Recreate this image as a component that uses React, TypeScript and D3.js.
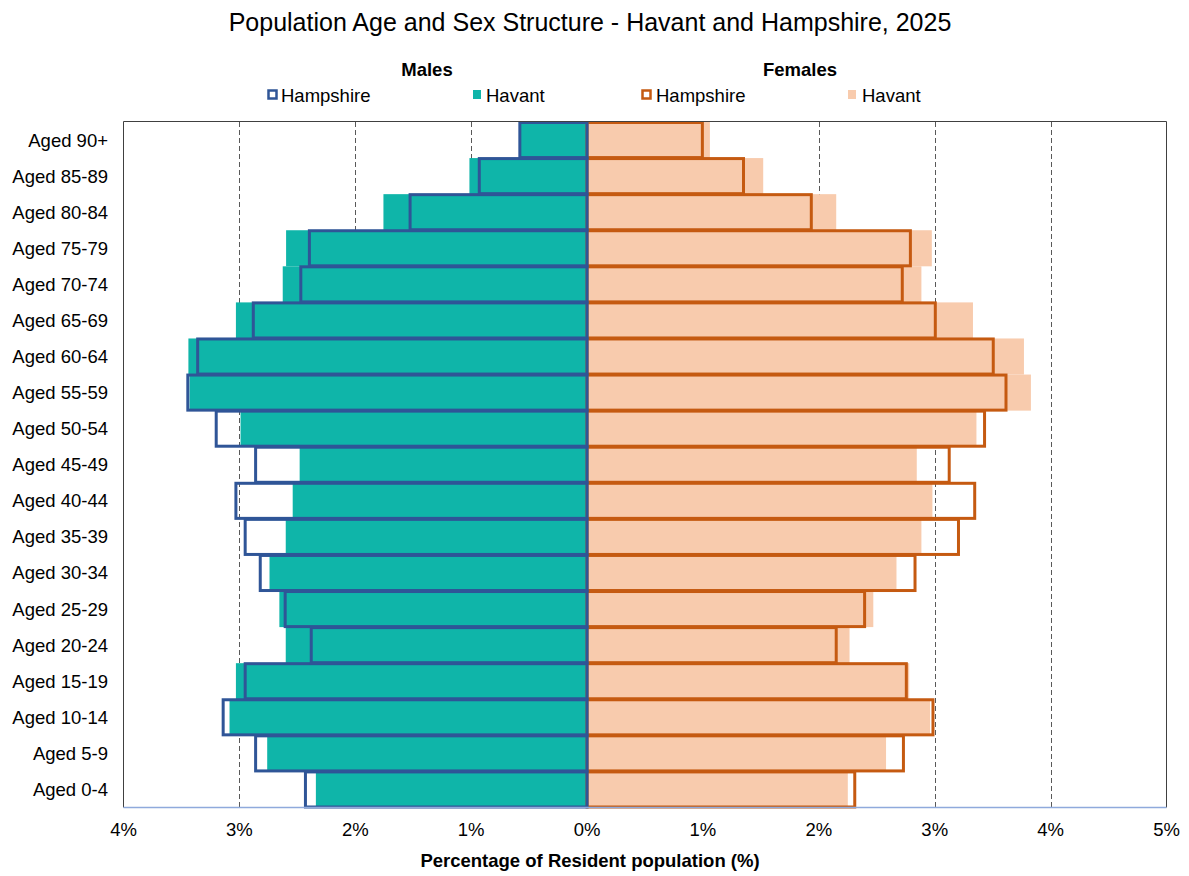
import React from "react";
import * as d3 from "d3";

const ageGroups = [
  "Aged 0-4", "Aged 5-9", "Aged 10-14", "Aged 15-19", "Aged 20-24", "Aged 25-29",
  "Aged 30-34", "Aged 35-39", "Aged 40-44", "Aged 45-49", "Aged 50-54", "Aged 55-59",
  "Aged 60-64", "Aged 65-69", "Aged 70-74", "Aged 75-79", "Aged 80-84", "Aged 85-89", "Aged 90+",
];
const maleHavant = [2.34, 2.76, 3.085, 3.03, 2.60, 2.655, 2.74, 2.60, 2.54, 2.48, 2.99, 3.43, 3.44, 3.03, 2.626, 2.597, 1.757, 1.015, 0.575];
const maleHampshire = [2.43, 2.86, 3.14, 2.95, 2.38, 2.605, 2.82, 2.95, 3.03, 2.86, 3.20, 3.445, 3.36, 2.88, 2.47, 2.396, 1.527, 0.93, 0.58];
const femaleHavant = [2.25, 2.58, 2.96, 2.78, 2.265, 2.47, 2.67, 2.885, 2.98, 2.845, 3.36, 3.83, 3.77, 3.33, 2.885, 2.975, 2.15, 1.52, 1.06];
const femaleHampshire = [2.31, 2.73, 2.985, 2.755, 2.15, 2.395, 2.83, 3.205, 3.345, 3.125, 3.43, 3.615, 3.505, 3.005, 2.72, 2.79, 1.935, 1.35, 0.995];
const xTicks = [-4, -3, -2, -1, 0, 1, 2, 3, 4, 5];
const gridTicks = [-3, -2, -1, 1, 2, 3, 4];

const FONT = "'Liberation Sans', Arial, sans-serif";
const TEAL = "#0fb5a9";
const PEACH = "#f8cbad";
const BLUE = "#2f5597";
const ORANGE = "#c55a11";
const FS = 18.5;

export default function App() {
  const W = 1189, H = 876;
  const left = 123.5, right = 1166.5, top = 122, bottom = 807.5;
  const x = d3.scaleLinear().domain([-4, 5]).range([left, right]);
  const y = d3.scaleBand<string>().domain([...ageGroups].reverse()).range([top, bottom]).padding(0);
  const bw = y.bandwidth();
  const x0 = x(0);

  return (
    <svg width={W} height={H} style={{ position: "absolute", left: 0, top: 0, fontFamily: FONT }}>
      <rect x={0} y={0} width={W} height={H} fill="#fff" />
      <text x={590} y={31} textAnchor="middle" fontSize={25} fill="#000">
        Population Age and Sex Structure - Havant and Hampshire, 2025
      </text>

      {/* legend */}
      <text x={427} y={76} textAnchor="middle" fontSize={FS} fontWeight="bold">Males</text>
      <text x={800} y={76} textAnchor="middle" fontSize={FS} fontWeight="bold">Females</text>
      <rect x={268.5} y={90.5} width={8} height={8} fill="#fff" stroke={BLUE} strokeWidth={2.5} />
      <text x={281} y={102} fontSize={FS}>Hampshire</text>
      <rect x={473} y={90} width={8} height={9} fill={TEAL} />
      <text x={486} y={102} fontSize={FS}>Havant</text>
      <rect x={642.5} y={90.5} width={8} height={8} fill="#fff" stroke={ORANGE} strokeWidth={2.5} />
      <text x={656} y={102} fontSize={FS}>Hampshire</text>
      <rect x={848} y={90} width={8} height={9} fill={PEACH} />
      <text x={862} y={102} fontSize={FS}>Havant</text>

      {/* gridlines */}
      {gridTicks.map((t) => (
        <line key={"g" + t} x1={Math.round(x(t)) + 0.5} x2={Math.round(x(t)) + 0.5} y1={top} y2={bottom}
          stroke="#595959" strokeWidth={1} strokeDasharray="5,3" />
      ))}

      {/* Havant bars */}
      {ageGroups.map((a, i) => (
        <rect key={"fh" + a} x={x0} y={y(a)!} width={x(femaleHavant[i]) - x0} height={bw} fill={PEACH} />
      ))}
      {ageGroups.map((a, i) => (
        <rect key={"mh" + a} x={x(-maleHavant[i])} y={y(a)!} width={x0 - x(-maleHavant[i])} height={bw} fill={TEAL} />
      ))}

      {/* Hampshire outlines */}
      {ageGroups.map((a, i) => (
        <rect key={"fH" + a} x={x0} y={y(a)! + 0.5} width={x(femaleHampshire[i]) - x0} height={bw - 1}
          fill="none" stroke={ORANGE} strokeWidth={3} />
      ))}
      {ageGroups.map((a, i) => (
        <rect key={"mH" + a} x={x(-maleHampshire[i])} y={y(a)! + 0.5} width={x0 - x(-maleHampshire[i])} height={bw - 1}
          fill="none" stroke={BLUE} strokeWidth={3} />
      ))}
      <line x1={x0} x2={x0} y1={top} y2={bottom} stroke={BLUE} strokeWidth={1.5} />

      {/* frame */}
      <line x1={left} x2={right} y1={top - 0.5} y2={top - 0.5} stroke="#404040" strokeWidth={1} />
      <line x1={left} x2={left} y1={top - 0.5} y2={bottom} stroke="#404040" strokeWidth={1} />
      <line x1={right} x2={right} y1={top - 0.5} y2={bottom} stroke="#404040" strokeWidth={1} />
      <line x1={left} x2={right} y1={bottom} y2={bottom} stroke="#8faadc" strokeWidth={1.5} />

      {/* y labels */}
      {ageGroups.map((a) => (
        <text key={"yl" + a} x={108} y={y(a)! + bw / 2 + 6.5} textAnchor="end" fontSize={FS}>{a}</text>
      ))}

      {/* x tick labels */}
      {xTicks.map((t) => (
        <text key={"xl" + t} x={x(t)} y={836} textAnchor="middle" fontSize={FS}>{Math.abs(t) + "%"}</text>
      ))}
      <text x={590} y={867} textAnchor="middle" fontSize={FS} fontWeight="bold">
        Percentage of Resident population (%)
      </text>
    </svg>
  );
}
